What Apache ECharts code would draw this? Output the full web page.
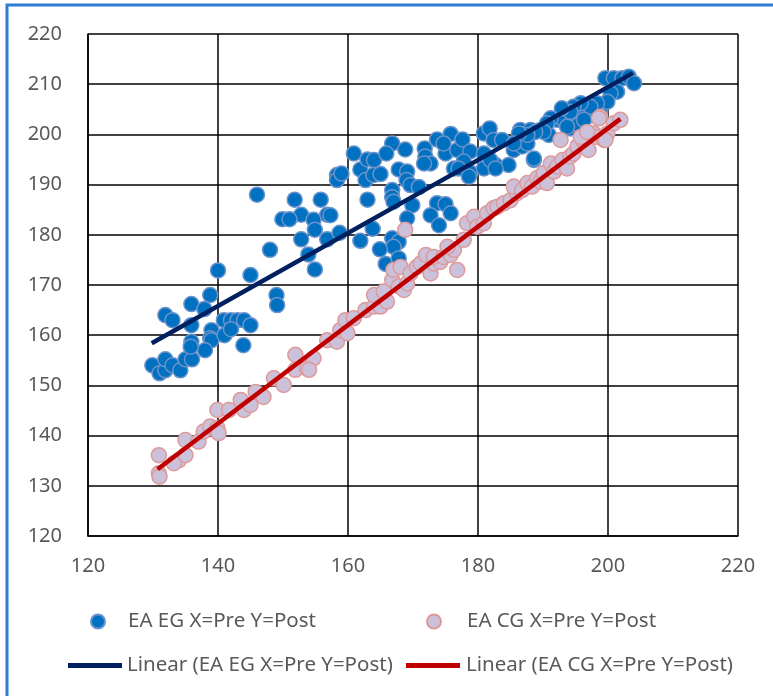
<!DOCTYPE html>
<html>
<head>
<meta charset="utf-8">
<script src="https://cdn.jsdelivr.net/npm/echarts@6/dist/echarts.min.js"></script>
<style>html,body{margin:0;padding:0;background:#fff}#c{width:773px;height:696px}</style>
</head>
<body>
<div id="c"></div>
<script>
// ---- data ----
const egName = 'EA EG X=Pre Y=Post';
const cgName = 'EA CG X=Pre Y=Post';
const egTrendName = 'Linear (EA EG X=Pre Y=Post)';
const cgTrendName = 'Linear (EA CG X=Pre Y=Post)';
const xTicks = [120, 140, 160, 180, 200, 220];
const yTicks = [120, 130, 140, 150, 160, 170, 180, 190, 200, 210, 220];

const egPoints = [
[129.9,154],[131,152.4],[131.9,153],[131.9,155.2],[133,154],[134.2,153],[135,155.2],[136,155.2],
[131.9,164],[133,163],[135.9,166.2],[137.9,165.2],[138.8,168],[140,172.9],[145,172],[135.9,162],
[140.9,163],[142,163],[143,163],[144,163],[145,162],[139,161],[138.8,159.4],[139,159],[138,157],[135.9,158.7],[135.8,157.7],[141,160],[142,161.2],[143.9,158],
[146,188],[151.8,187],[155.8,187],[152.8,184],[156.8,184],[149.9,183.1],[151,183.1],[154.7,183],[154.9,181],[152.8,179.1],[156.8,179.1],[148,177],[153.9,176.1],[154.9,173.1],[158.3,191.9],[158.3,190.9],[158.7,180.4],[149,168],[149.1,166],
[159,192.2],[160.9,196.2],[161.9,193],[163,195],[164,194.9],[162.7,190.9],[163.9,191.9],[165,192.1],[163,187],[166.8,198.2],[165.9,196.2],[168.8,197],[167.8,193],[169.1,192.6],[166.8,188.9],[166.8,187.5],[169,190.9],[169.6,189.9],[170.9,189.5],[167,186.6],[169.9,185.9],[157.3,183.9],[169.1,183.3],[163.8,181.2],[161.9,178.8],[166.8,179.3],[167.8,178.6],[167,177.6],[164.9,177.1],[165.8,174.2],[167.8,175.3],
[171.8,197.2],[171.9,195.6],[172.7,194.2],[171.7,194.2],[173.7,199],[175,196.2],[175.8,200.1],[174.7,198.2],[176.8,196.9],[177.6,199],[178.8,196.6],[177.8,194.6],[176.3,193.2],[177,193.2],[178.8,192.4],[178.6,191.6],[173.7,186.3],[175,186.1],[172.7,183.9],[174,181.9],[175.8,184.3],
[180.9,200.2],[181.8,201.2],[182.4,198.9],[182.7,193.9],[180.9,193.2],
[186.5,200.9],[188.1,200.9],[189.6,200.9],[190.9,199.9],[185.5,196.9],[186.8,197.6],[187.6,198.2],[184.7,193.9],[188.6,194.9],
[192.2,202.9],[193.2,202.9],[194.7,203.5],[195.8,203.8],[197.8,203.8],[198.8,204.5],[194.2,201.2],[195.5,201.9],
[199.6,211.2],[200.9,211.2],[202.2,211.2],[203.2,211.5],[204,210.2],[201.4,208.5],[200.4,208.2],[199.9,206.5],[198.3,206.2],[197.3,205.5],[195.8,206.2],[194.7,205.5],[194.2,204.5],[192.9,205.2],[196.3,202.9],[193.7,201.5],[191.2,203.2],[190.6,202.2],[190.1,200.5],[188.8,200.5],[187.6,199.9],[186.3,200.2],[183.7,198.9],[180.9,196.2],[181.9,194.9],[182.7,193.2],[188.6,195.2],[185.5,198.2]
];

const cgPoints = [
[130.9,136.1],[130.9,132.5],[131,131.8],[134,135.1],[135,136.1],[133.2,134.5],[135,139.1],[137,138.8],[137.8,140.8],[138.8,141.8],[139.9,141.5],[140.1,140.5],[139.9,145.1],[141.7,145.1],[143.5,147.1],[144,145.1],[145,146.1],[145.8,148.7],[147,147.7],[148.6,151.4],[150.1,150.1],[151.9,156.1],[151.9,153.1],[153.7,153.4],[154.7,155.4],[154,153.1],[156.8,159],[158.3,158.7],[158.8,161],[159.9,160.4],[159.6,163],[160.9,163.4],
[162.7,165],[164,165.7],[164,168],[165,165.7],[166,166.7],[165.5,168.7],[166.8,171],[167.8,169.7],[168.6,169],[169.1,170.3],[167,173],[168.1,173.6],[169.6,172.3],[170.6,173.6],[171.2,174.3],[172,176],[172.7,172.3],[173.2,174.3],[174.2,174.6],[173.2,175.6],[174.7,175.6],[175.8,176],[176.3,177],[176.8,173],[175.3,177.6],[168.8,181],
[177.8,179],[178.3,182.3],[179.4,183.6],[179.9,181.6],[180.9,182.3],[181.4,184.3],[182.4,185.3],[183,185.6],[184,186.3],[185,186.9],[186,188.3],[185.5,189.6],[186.8,188.9],[187.6,190.3],[188.3,189.6],[189.1,191.3],[189.6,190.6],[190.1,192.3],[190.6,190.3],[191.2,194.2],[191.7,192.6],[192.2,193.6],[193,194.9],[193.7,193.2],[194.2,195.6],[194.7,196.2],[195.3,197.6],[196.3,198.5],[197,196.9],[195.8,199.5],[197.8,200.2],[198.3,199.5],[199.4,198.9],[199.9,200.2],[200.9,202.2],[201.9,202.9],[198.8,203.5],[198.6,203.2],[192.7,198.9],[196.8,200.5],[199.6,198.9]
];

// trendline end points
const egTrend = [[129.8,158.4],[203.8,212.2]];
const cgTrend = [[130.7,133.3],[201.9,203.1]];

// ---- chart ----
const FONT = '"Noto Sans", sans-serif';
const TXT = '#595959';
const chart = echarts.init(document.getElementById('c'), null, {renderer:'canvas'});
const legendText = {color: TXT, fontSize: 20.5, fontFamily: FONT};
chart.setOption({
  animation: false,
  backgroundColor: '#fff',
  graphic: [{
    type: 'rect', silent: true, z: 100,
    shape: {x: 7, y: 5, width: 1000, height: 1000},
    style: {fill: 'none', stroke: '#2D7DD2', lineWidth: 3}
  }],
  grid: {left: 88, top: 34, right: 35, bottom: 160, containLabel: false},
  xAxis: {
    type: 'value', min: xTicks[0], max: xTicks[xTicks.length-1], interval: 20,
    axisLine: {show: true, onZero: false, lineStyle: {color: '#000', width: 1.5}},
    axisTick: {show: false},
    splitLine: {show: true, lineStyle: {color: '#000', width: 1.5}},
    axisLabel: {color: TXT, fontSize: 20, fontFamily: FONT, margin: 20}
  },
  yAxis: {
    type: 'value', min: yTicks[0], max: yTicks[yTicks.length-1], interval: 10,
    axisLine: {show: true, onZero: false, lineStyle: {color: '#000', width: 1.5}},
    axisTick: {show: false},
    splitLine: {show: true, lineStyle: {color: '#000', width: 1.5}},
    axisLabel: {color: TXT, fontSize: 20, fontFamily: FONT, margin: 26}
  },
  legend: [
    {data: [{name: egName, icon: 'circle'}], left: 85, top: 606, itemWidth: 14, itemHeight: 14, itemGap: 0,
     textStyle: Object.assign({padding: [0,0,0,18]}, legendText)},
    {data: [{name: cgName, icon: 'circle'}], left: 421, top: 606, itemWidth: 14, itemHeight: 14, itemGap: 0,
     textStyle: Object.assign({padding: [0,0,0,21]}, legendText)},
    {data: [{name: egTrendName, icon: 'rect'}], left: 63, top: 650, itemWidth: 54, itemHeight: 5, itemGap: 0,
     textStyle: Object.assign({padding: [0,0,0,0]}, legendText)},
    {data: [{name: cgTrendName, icon: 'rect'}], left: 401, top: 650, itemWidth: 54, itemHeight: 5, itemGap: 0,
     textStyle: Object.assign({padding: [0,0,0,1]}, legendText)}
  ],
  series: [
    {name: egName, type: 'scatter', data: egPoints, symbolSize: 15,
     itemStyle: {color: '#0070C0', borderColor: '#6A93CB', borderWidth: 1.5, opacity: 1}},
    {name: cgName, type: 'scatter', data: cgPoints, symbolSize: 15,
     itemStyle: {color: '#CCC1DA', borderColor: '#DE9A9A', borderWidth: 1.5, opacity: 1}},
    {name: egTrendName, type: 'line', data: egTrend, showSymbol: false, symbol: 'none',
     lineStyle: {color: '#002060', width: 4.5}, itemStyle: {color: '#002060'}, z: 5},
    {name: cgTrendName, type: 'line', data: cgTrend, showSymbol: false, symbol: 'none',
     lineStyle: {color: '#C00000', width: 4.5}, itemStyle: {color: '#C00000'}, z: 5}
  ]
});
</script>
</body>
</html>
